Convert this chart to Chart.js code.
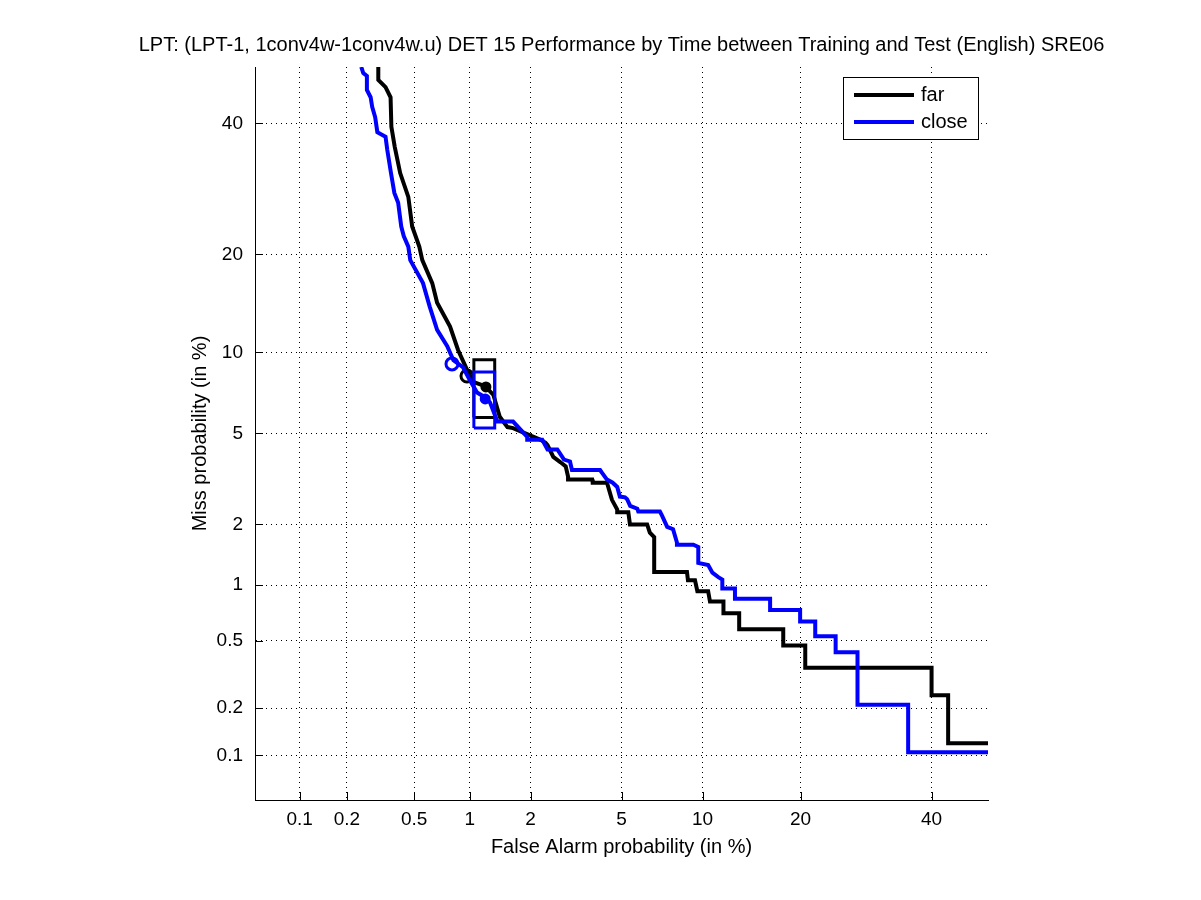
<!DOCTYPE html>
<html lang="en">
<head>
<meta charset="UTF-8">
<title>DET 15 Performance by Time between Training and Test</title>
<script src="https://cdn.jsdelivr.net/npm/chart.js"></script>
<style>
  body { margin: 0; background: #fff; }
  #wrap { width: 1201px; height: 900px; }
</style>
</head>
<body>
<div id="wrap"><canvas id="detChart" width="1201" height="900"></canvas></div>
<script>
// DET curve values, in percent (false alarm, miss)
const titleText = 'LPT: (LPT-1, 1conv4w-1conv4w.u) DET 15 Performance by Time between Training and Test (English) SRE06';
const xTitle = 'False Alarm probability (in %)';
const yTitle = 'Miss probability (in %)';
const tickPercents = [0.1, 0.2, 0.5, 1, 2, 5, 10, 20, 40];
const axisMin = 0.05;
const axisMax = 50;

const farFA = [0.31, 0.31, 0.342, 0.366, 0.37, 0.387, 0.416, 0.463, 0.487, 0.534, 0.555, 0.63, 0.67, 0.787, 0.868,
  0.968, 1.04, 1.2, 1.32, 1.42, 1.55, 1.65, 2.23, 2.35, 2.4, 2.55, 2.75, 2.9, 2.97, 2.97, 3.78, 3.8, 4.36, 4.57, 4.8,
  4.8, 5.32, 5.4, 6.3, 6.45, 6.7, 6.7, 8.83, 8.9, 9.42, 9.6, 10.45, 10.6, 11.75, 11.75, 13.2, 13.2, 17.9, 17.9, 20.6,
  20.6, 40, 40, 42.9, 42.9, 50];
const farMiss = [50, 47.7, 46.4, 44.6, 39.4, 36, 31.7, 28, 23.7, 21, 19.3, 16.6, 14.5, 12.2, 10.2,
  8.7, 7.88, 7.6, 7.05, 5.82, 5.3, 5.25, 4.71, 4.58, 4.48, 4.0, 3.8, 3.65, 3.3, 3.2, 3.2, 3.1, 3.1, 2.6, 2.35,
  2.28, 2.28, 2.0, 2.0, 1.83, 1.74, 1.17, 1.17, 1.06, 1.06, 0.93, 0.93, 0.82, 0.82, 0.71, 0.71, 0.58, 0.58, 0.47, 0.47,
  0.35, 0.35, 0.24, 0.24, 0.12, 0.12];

const closeFA = [0.245, 0.252, 0.265, 0.265, 0.279, 0.285, 0.297, 0.306, 0.342, 0.35, 0.368, 0.385, 0.405, 0.422, 0.436,
  0.463, 0.475, 0.56, 0.61, 0.67, 0.76, 0.82, 0.92, 1.0, 1.09, 1.2, 1.27, 1.37, 1.37, 1.65, 1.93, 1.93, 2.27, 2.4, 2.66,
  2.85, 3.03, 3.09, 4.08, 4.16, 4.36, 4.6, 4.8, 4.92, 5.16, 5.26, 5.41, 5.77, 5.82, 7.04, 7.17, 7.49, 7.87, 8.13, 8.13,
  9.3, 9.67, 9.67, 10.45, 10.8, 11.3, 11.65, 11.65, 12.8, 12.8, 16.4, 16.4, 19.95, 19.95, 21.9, 21.9, 24.7, 24.7,
  27.9, 27.9, 36, 36, 50];
const closeMiss = [50, 48.9, 48.4, 45.9, 44.6, 42.9, 41.1, 38.5, 37.7, 35.5, 31.7, 28.6, 27.1, 23.7, 22.4,
  21.0, 19.3, 16.6, 14.1, 11.9, 10.5, 9.4, 8.9, 8.0, 7.2, 6.9, 6.6, 5.67, 5.57, 5.57, 4.84, 4.71, 4.71, 4.3, 4.3,
  3.9, 3.83, 3.52, 3.52, 3.42, 3.2, 3.1, 2.97, 2.69, 2.67, 2.62, 2.44, 2.37, 2.3, 2.3, 2.2, 1.95, 1.9, 1.64, 1.6,
  1.6, 1.56, 1.3, 1.27, 1.16, 1.1, 1.07, 0.96, 0.96, 0.85, 0.85, 0.74, 0.74, 0.64, 0.64, 0.53, 0.53,
  0.43, 0.43, 0.21, 0.21, 0.105, 0.105];

// confidence boxes [low, high] and the two marked operating points
const farBoxFA = [1.05, 1.34];
const farBoxMiss = [5.78, 9.43];
const closeBoxFA = [1.05, 1.34];
const closeBoxMiss = [5.26, 8.55];
const farOpenPoint = [0.967, 8.27];
const farDotPoint = [1.21, 7.55];
const closeOpenPoint = [0.806, 9.13];
const closeDotPoint = [1.2, 6.81];

const seriesLabels = ['far', 'close'];
const seriesColors = ['#000000', '#0000ff'];

// inverse normal cdf (Acklam)
function probit(p) {
    const a = [-3.969683028665376e+01, 2.209460984245205e+02, -2.759285104469687e+02, 1.383577518672690e+02, -3.066479806614716e+01, 2.506628277459239e+00];
    const b = [-5.447609879822406e+01, 1.615858368580409e+02, -1.556989798598866e+02, 6.680131188771972e+01, -1.328068155288572e+01];
    const c = [-7.784894002430293e-03, -3.223964580411365e-01, -2.400758277161838e+00, -2.549732539343734e+00, 4.374664141464968e+00, 2.938163982698783e+00];
    const d = [7.784695709041462e-03, 3.224671290700398e-01, 2.445134137142996e+00, 3.754408661907416e+00];
    const pl = 0.02425;
    if (p <= 0) return -8;
    if (p >= 1) return 8;
    if (p < pl) {
        const q = Math.sqrt(-2 * Math.log(p));
        return (((((c[0] * q + c[1]) * q + c[2]) * q + c[3]) * q + c[4]) * q + c[5]) / ((((d[0] * q + d[1]) * q + d[2]) * q + d[3]) * q + 1);
    }
    if (p <= 1 - pl) {
        const q = p - 0.5, r = q * q;
        return (((((a[0] * r + a[1]) * r + a[2]) * r + a[3]) * r + a[4]) * r + a[5]) * q / (((((b[0] * r + b[1]) * r + b[2]) * r + b[3]) * r + b[4]) * r + 1);
    }
    const q = Math.sqrt(-2 * Math.log(1 - p));
    return -(((((c[0] * q + c[1]) * q + c[2]) * q + c[3]) * q + c[4]) * q + c[5]) / ((((d[0] * q + d[1]) * q + d[2]) * q + d[3]) * q + 1);
}

function normCdf(z) {
    // Abramowitz-Stegun erf approximation
    const t = 1 / (1 + 0.3275911 * Math.abs(z) / Math.SQRT2);
    const y = 1 - (((((1.061405429 * t - 1.453152027) * t) + 1.421413741) * t - 0.284496736) * t + 0.254829592) * t * Math.exp(-z * z / 2);
    return z >= 0 ? (1 + y) / 2 : (1 - y) / 2;
}

// normal deviate scale for DET plots
class ProbitScale extends Chart.Scale {
    determineDataLimits() {
        this.min = this.options.min;
        this.max = this.options.max;
    }
    buildTicks() {
        return tickPercents.map(v => ({ value: v }));
    }
    configure() {
        super.configure();
        this._zMin = probit(this.min / 100);
        this._zMax = probit(this.max / 100);
    }
    getPixelForValue(v) {
        const z = probit(v / 100);
        return this.getPixelForDecimal((z - this._zMin) / (this._zMax - this._zMin));
    }
    getValueForPixel(px) {
        const dec = this.getDecimalForPixel(px);
        return normCdf(this._zMin + dec * (this._zMax - this._zMin)) * 100;
    }
    getPixelForTick(i) {
        return this.getPixelForValue(this.ticks[i].value);
    }
}
ProbitScale.id = 'probit';
ProbitScale.defaults = {};
Chart.register(ProbitScale);

function toPoints(xs, ys) {
    return xs.map((x, i) => ({ x: x, y: ys[i] }));
}
function boxPoints(bx, by) {
    return [
        { x: bx[0], y: by[0] }, { x: bx[0], y: by[1] }, { x: bx[1], y: by[1] },
        { x: bx[1], y: by[0] }, { x: bx[0], y: by[0] }
    ];
}

const fontFamily = '"Liberation Sans", Arial, Helvetica, sans-serif';

// title centred over the plot area (MATLAB style), not over the canvas
const plotTitle = {
    id: 'plotTitle',
    afterDraw(chart) {
        const ctx = chart.ctx;
        const area = chart.chartArea;
        ctx.save();
        ctx.fillStyle = '#000000';
        ctx.font = '20px ' + fontFamily;
        ctx.textAlign = 'center';
        ctx.textBaseline = 'middle';
        ctx.fillText(titleText, (area.left + area.right) / 2, area.top - 22);
        ctx.restore();
    }
};

// legend box inside the top right corner
const detLegend = {
    id: 'detLegend',
    afterDraw(chart) {
        const ctx = chart.ctx;
        const area = chart.chartArea;
        const w = 135, h = 62;
        const left = area.right - 10 - w;
        const top = area.top + 10;
        ctx.save();
        ctx.fillStyle = '#ffffff';
        ctx.fillRect(left, top, w, h);
        ctx.strokeStyle = '#000000';
        ctx.lineWidth = 1;
        ctx.strokeRect(left + 0.5, top + 0.5, w, h);
        ctx.font = '20px ' + fontFamily;
        ctx.textBaseline = 'middle';
        seriesLabels.forEach((lab, i) => {
            const y = top + 18 + i * 27;
            ctx.strokeStyle = seriesColors[i];
            ctx.lineWidth = 4;
            ctx.beginPath();
            ctx.moveTo(left + 11, y);
            ctx.lineTo(left + 71, y);
            ctx.stroke();
            ctx.fillStyle = '#000000';
            ctx.fillText(lab, left + 78, y);
        });
        ctx.restore();
    }
};

// short tick marks pointing into the plot
const innerTicks = {
    id: 'innerTicks',
    afterDatasetsDraw(chart) {
        const ctx = chart.ctx;
        const area = chart.chartArea;
        const xs = chart.scales.x, ys = chart.scales.y;
        ctx.save();
        ctx.strokeStyle = '#000000';
        ctx.lineWidth = 1;
        ctx.beginPath();
        xs.ticks.forEach((t, i) => {
            const px = Math.round(xs.getPixelForTick(i)) + 0.5;
            ctx.moveTo(px, area.bottom);
            ctx.lineTo(px, area.bottom - 8);
        });
        ys.ticks.forEach((t, i) => {
            const py = Math.round(ys.getPixelForTick(i)) + 0.5;
            ctx.moveTo(area.left, py);
            ctx.lineTo(area.left + 8, py);
        });
        ctx.stroke();
        ctx.restore();
    }
};

const axisCommon = {
    type: 'probit',
    min: axisMin,
    max: axisMax,
    grid: { color: '#000000', lineWidth: 1, drawTicks: false },
    border: { display: true, color: '#000000', width: 1, dash: [1, 4] },
    ticks: { color: '#000000', font: { family: fontFamily, size: 19 }, autoSkip: false, maxRotation: 0 }
};

const ctx = document.getElementById('detChart').getContext('2d');
const detChart = new Chart(ctx, {
    type: 'line',
    data: {
        datasets: [
            { label: 'close', data: toPoints(closeFA, closeMiss), borderColor: seriesColors[1], borderWidth: 4, pointRadius: 0, order: 0 },
            { label: 'far', data: toPoints(farFA, farMiss), borderColor: seriesColors[0], borderWidth: 4, pointRadius: 0, order: 1 },
            { label: 'close box', data: boxPoints(closeBoxFA, closeBoxMiss), borderColor: seriesColors[1], borderWidth: 3, pointRadius: 0, order: 0 },
            { label: 'far box', data: boxPoints(farBoxFA, farBoxMiss), borderColor: seriesColors[0], borderWidth: 3, pointRadius: 0, order: 1 },
            { label: 'close open', data: [{ x: closeOpenPoint[0], y: closeOpenPoint[1] }], showLine: false, pointRadius: 6,
              pointBorderWidth: 3, pointBorderColor: seriesColors[1], pointBackgroundColor: 'rgba(0,0,0,0)', order: 0 },
            { label: 'far open', data: [{ x: farOpenPoint[0], y: farOpenPoint[1] }], showLine: false, pointRadius: 6,
              pointBorderWidth: 3, pointBorderColor: seriesColors[0], pointBackgroundColor: 'rgba(0,0,0,0)', order: 1 },
            { label: 'close dot', data: [{ x: closeDotPoint[0], y: closeDotPoint[1] }], showLine: false, pointRadius: 4,
              pointBorderWidth: 3, pointBorderColor: seriesColors[1], pointBackgroundColor: seriesColors[1], order: 0 },
            { label: 'far dot', data: [{ x: farDotPoint[0], y: farDotPoint[1] }], showLine: false, pointRadius: 4,
              pointBorderWidth: 3, pointBorderColor: seriesColors[0], pointBackgroundColor: seriesColors[0], order: 1 }
        ]
    },
    options: {
        responsive: false,
        animation: false,
        devicePixelRatio: 1,
        layout: { padding: { left: 0, right: 213, top: 67, bottom: 0 } },
        elements: { line: { tension: 0, fill: false } },
        plugins: {
            legend: { display: false },
            tooltip: { enabled: false },
            title: { display: false }
        },
        scales: {
            x: Object.assign({}, axisCommon, {
                position: 'bottom',
                ticks: Object.assign({}, axisCommon.ticks, { padding: 8 }),
                title: { display: true, text: xTitle, color: '#000000', font: { family: fontFamily, size: 20 }, padding: { top: 0, bottom: 41 } },
                afterFit(scale) { scale.height = 100; }
            }),
            y: Object.assign({}, axisCommon, {
                position: 'left',
                ticks: Object.assign({}, axisCommon.ticks, { padding: 12 }),
                title: { display: true, text: yTitle, color: '#000000', font: { family: fontFamily, size: 20 }, padding: { top: 188, bottom: 0 } },
                afterFit(scale) { scale.width = 255; }
            })
        }
    },
    plugins: [innerTicks, detLegend, plotTitle]
});
</script>
</body>
</html>
